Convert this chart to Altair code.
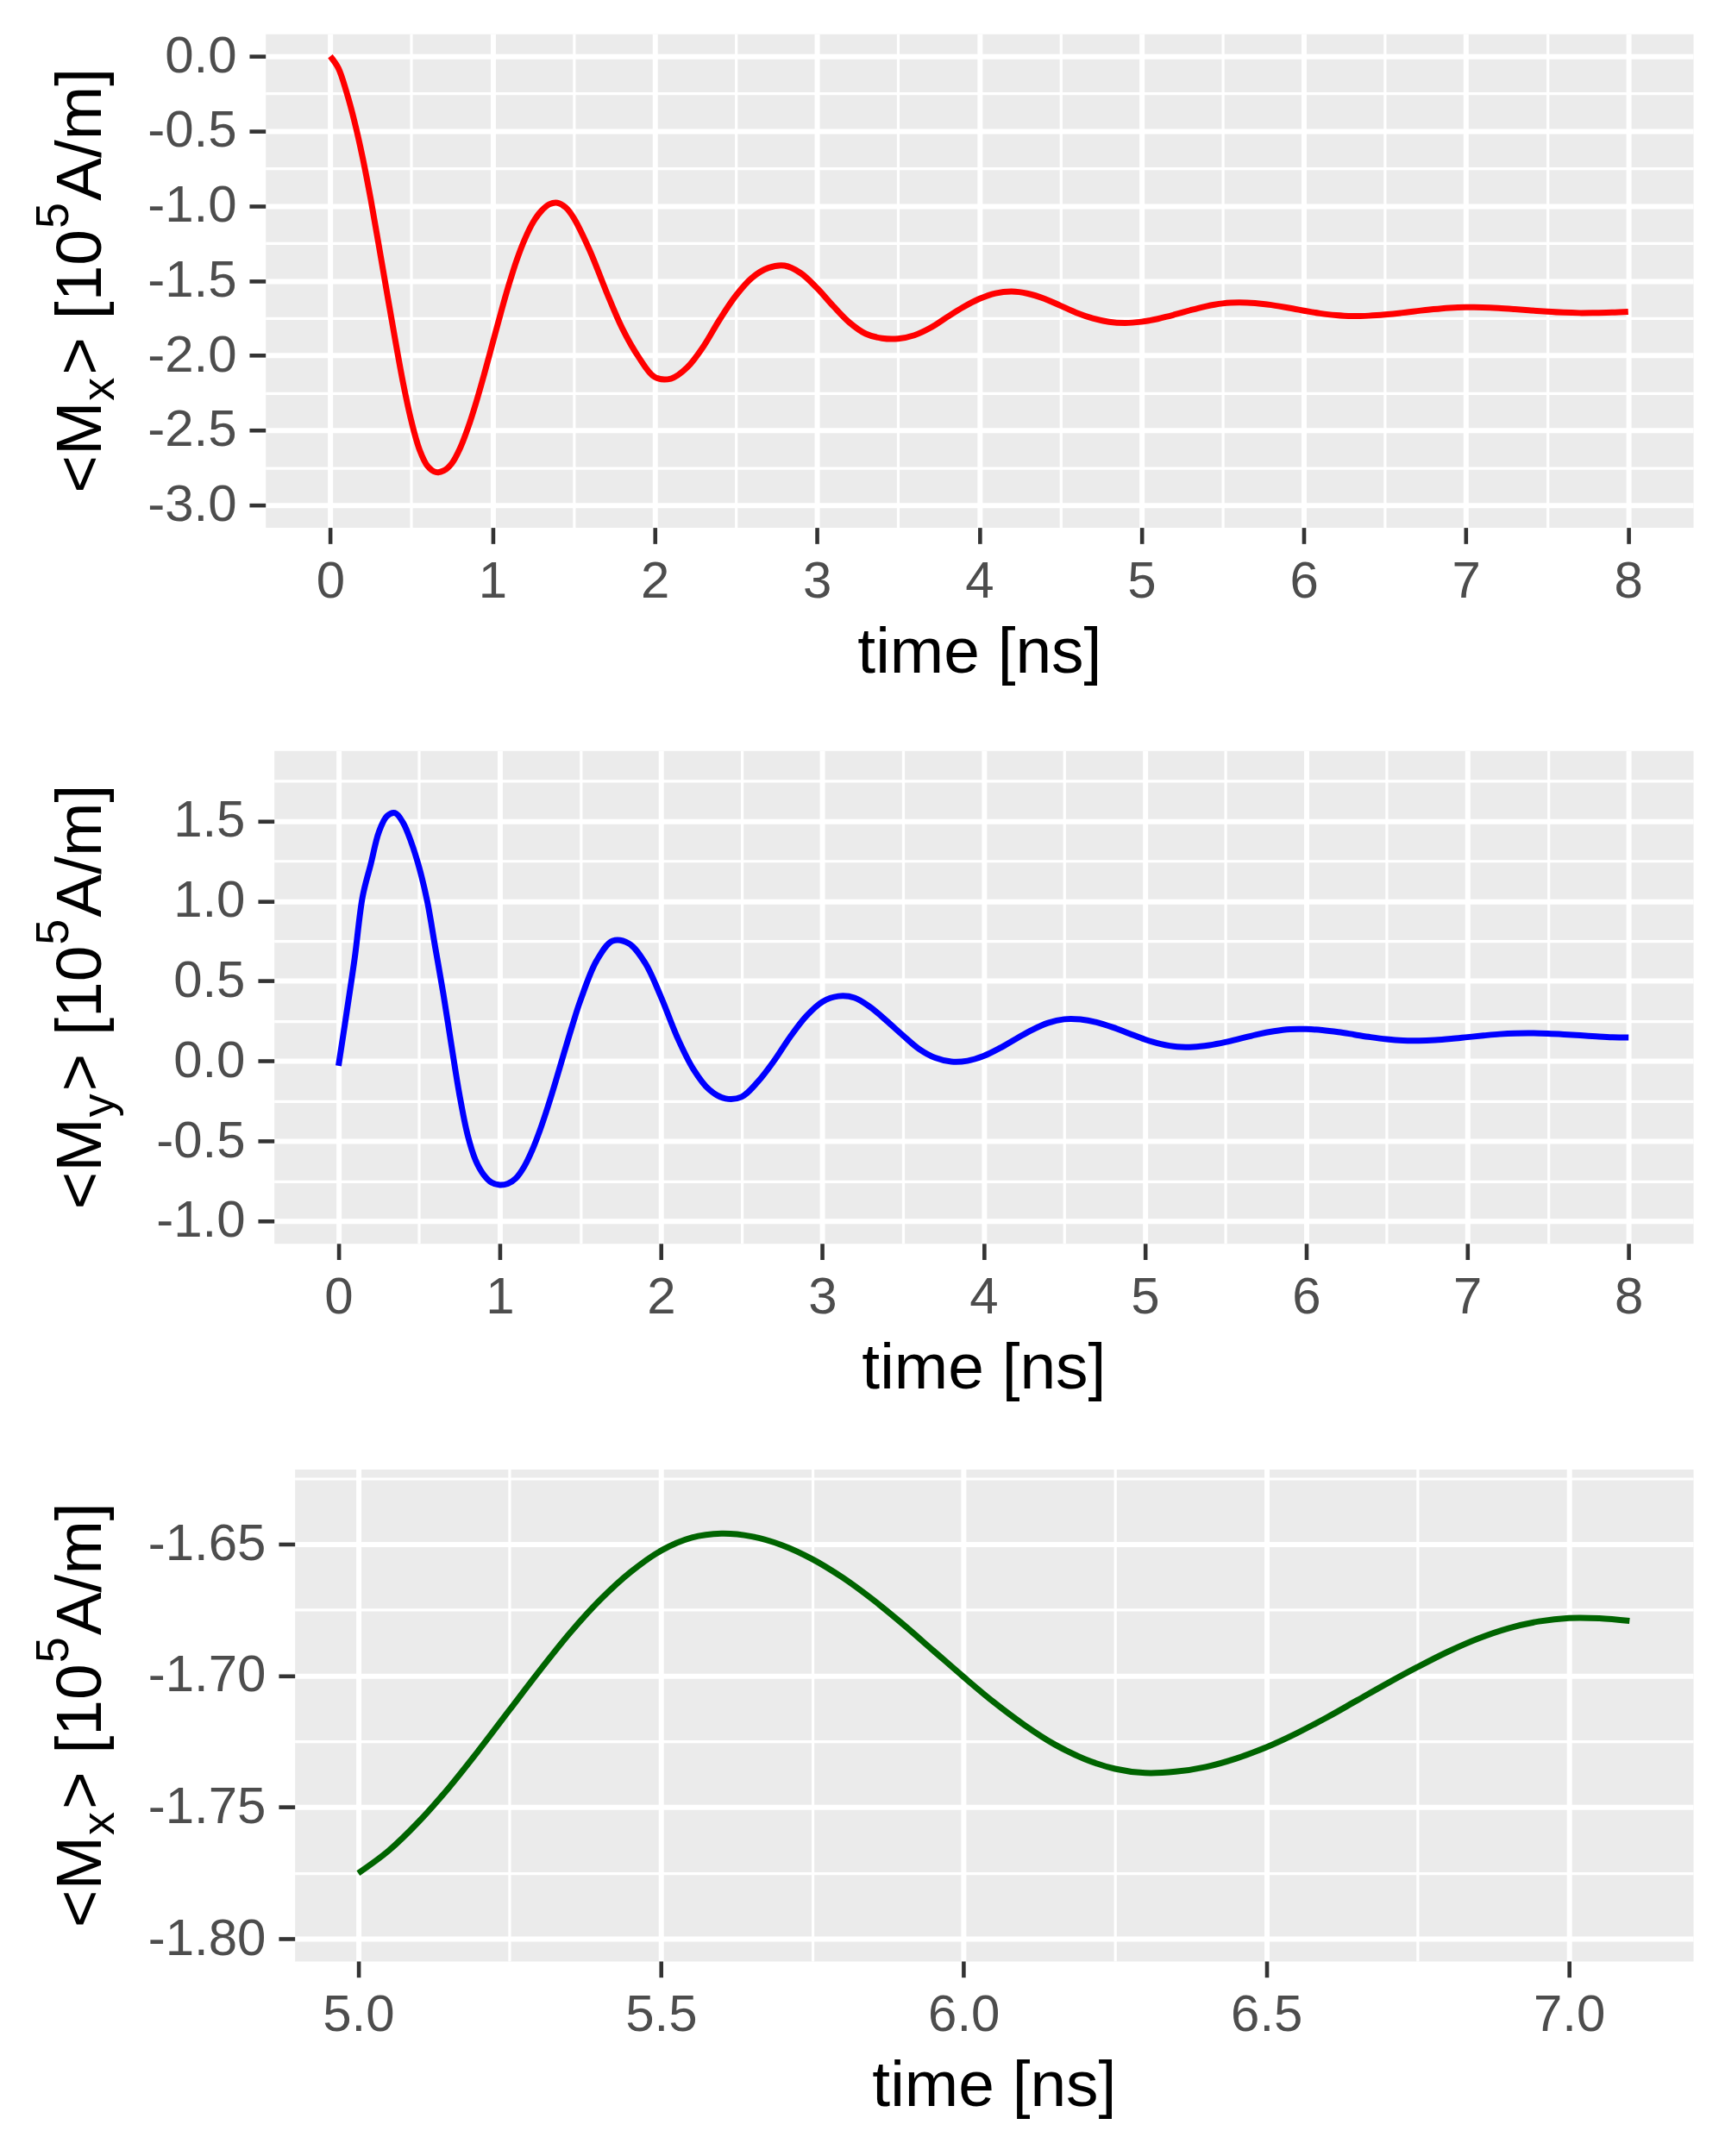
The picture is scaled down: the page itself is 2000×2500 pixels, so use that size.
import altair as alt
import pandas as pd

FONT = "Liberation Sans"

# <Mx> trace; denser sampling where it swings fast and over the 5.0-7.1 ns window
mx_time = [
    0.00, 0.05, 0.10, 0.15, 0.20, 0.25, 0.30, 0.35, 0.40, 0.45,
    0.50, 0.55, 0.60, 0.65, 0.70, 0.75, 0.80, 0.85, 0.90, 0.95,
    1.00, 1.05, 1.10, 1.15, 1.20, 1.25, 1.30, 1.35, 1.40, 1.45, 1.50,
    1.6, 1.7, 1.8, 1.9, 2.0, 2.1, 2.2, 2.3, 2.4, 2.5, 2.6, 2.7, 2.8, 2.9,
    3.0, 3.1, 3.2, 3.3, 3.4, 3.5, 3.6, 3.7, 3.8, 3.9,
    4.0, 4.1, 4.2, 4.3, 4.4, 4.5, 4.6, 4.7, 4.8, 4.9,
    5.00, 5.05, 5.10, 5.15, 5.20, 5.25, 5.30, 5.35, 5.40, 5.45,
    5.50, 5.55, 5.60, 5.65, 5.70, 5.75, 5.80, 5.85, 5.90, 5.95,
    6.00, 6.05, 6.10, 6.15, 6.20, 6.25, 6.30, 6.35, 6.40, 6.45,
    6.50, 6.55, 6.60, 6.65, 6.70, 6.75, 6.80, 6.85, 6.90, 6.95,
    7.00, 7.05, 7.10,
    7.2, 7.3, 7.4, 7.5, 7.6, 7.7, 7.8, 7.9, 8.0,
]
mx_value = [
    0.00, -0.08, -0.24, -0.44, -0.68, -0.96, -1.27, -1.585, -1.895, -2.19,
    -2.44, -2.63, -2.74, -2.78, -2.77, -2.72, -2.62, -2.48, -2.31, -2.12,
    -1.92, -1.72, -1.53, -1.36, -1.22, -1.11, -1.035, -0.99, -0.98, -1.01, -1.08,
    -1.30, -1.57, -1.82, -2.01, -2.145, -2.155, -2.08, -1.94, -1.76, -1.60, -1.48, -1.415, -1.40, -1.45,
    -1.55, -1.67, -1.78, -1.855, -1.885, -1.888, -1.865, -1.815, -1.745, -1.678,
    -1.622, -1.585, -1.573, -1.587, -1.620, -1.667, -1.715, -1.752, -1.776, -1.783,
    -1.7751, -1.7666, -1.7555, -1.7425, -1.7281, -1.7130, -1.6980, -1.6837, -1.6711, -1.6606,
    -1.6525, -1.6476, -1.6460, -1.6471, -1.6504, -1.6557, -1.6627, -1.6711, -1.6805, -1.6905,
    -1.7005, -1.7101, -1.7187, -1.7261, -1.7317, -1.7354, -1.7370, -1.7365, -1.7347, -1.7315,
    -1.7272, -1.7219, -1.7159, -1.7094, -1.7029, -1.6967, -1.6909, -1.6859, -1.6820, -1.6794,
    -1.6781, -1.6782, -1.6792,
    -1.684, -1.691, -1.699, -1.707, -1.713, -1.716, -1.715, -1.713, -1.708,
]

# <My> trace
my_time = [
    0.00, 0.05, 0.10, 0.15, 0.20, 0.25, 0.30, 0.35, 0.40, 0.45,
    0.50, 0.55, 0.60, 0.65, 0.70, 0.75, 0.80, 0.85, 0.90, 0.95,
    1.00, 1.05, 1.10, 1.15, 1.20, 1.25, 1.30, 1.35, 1.40, 1.45, 1.50,
    1.6, 1.7, 1.8, 1.9, 2.0, 2.1, 2.2, 2.3, 2.4, 2.5, 2.6, 2.7, 2.8, 2.9,
    3.0, 3.1, 3.2, 3.3, 3.4, 3.5, 3.6, 3.7, 3.8, 3.9,
    4.0, 4.1, 4.2, 4.3, 4.4, 4.5, 4.6, 4.7, 4.8, 4.9,
    5.0, 5.1, 5.2, 5.3, 5.4, 5.5, 5.6, 5.7, 5.8, 5.9,
    6.0, 6.1, 6.2, 6.3, 6.4, 6.5, 6.6, 6.7, 6.8, 6.9,
    7.0, 7.1, 7.2, 7.3, 7.4, 7.5, 7.6, 7.7, 7.8, 7.9, 8.0,
]
my_value = [
    -0.03, 0.30, 0.64, 1.03, 1.23, 1.43, 1.53, 1.55, 1.49, 1.37,
    1.21, 1.00, 0.71, 0.42, 0.10, -0.21, -0.46, -0.62, -0.71, -0.76,
    -0.775, -0.767, -0.733, -0.663, -0.560, -0.430, -0.280, -0.116, 0.055, 0.222, 0.378,
    0.626, 0.751, 0.735, 0.615, 0.400, 0.150, -0.050, -0.180, -0.235, -0.224, -0.130, 0.000, 0.150, 0.280,
    0.370, 0.405, 0.395, 0.335, 0.250, 0.160, 0.075, 0.020, -0.004, 0.001,
    0.031, 0.080, 0.138, 0.194, 0.238, 0.261, 0.260, 0.242, 0.211, 0.173,
    0.135, 0.106, 0.089, 0.088, 0.099, 0.118, 0.142, 0.167, 0.186, 0.198,
    0.199, 0.193, 0.181, 0.165, 0.149, 0.136, 0.128, 0.127, 0.131, 0.139,
    0.149, 0.159, 0.168, 0.173, 0.174, 0.171, 0.166, 0.160, 0.154, 0.149, 0.147,
]

# tick positions (majors carry labels, the rest are minor grid lines)
full_x_ticks = [0, 0.5, 1, 1.5, 2, 2.5, 3, 3.5, 4, 4.5, 5, 5.5, 6, 6.5, 7, 7.5, 8]
mx_y_ticks = [-3.0, -2.75, -2.5, -2.25, -2.0, -1.75, -1.5, -1.25, -1.0, -0.75, -0.5, -0.25, 0.0]
my_y_ticks = [-1.0, -0.75, -0.5, -0.25, 0.0, 0.25, 0.5, 0.75, 1.0, 1.25, 1.5, 1.75]
zoom_x_ticks = [5.0, 5.25, 5.5, 5.75, 6.0, 6.25, 6.5, 6.75, 7.0]
zoom_y_ticks = [-1.8, -1.775, -1.75, -1.725, -1.7, -1.675, -1.65, -1.625]

mx = pd.DataFrame({"t": mx_time, "v": mx_value})
my = pd.DataFrame({"t": my_time, "v": my_value})

MAJOR_W, MINOR_W = 6.0, 3.2
LINE_W = 7.0
MINUS = "\u2212"

# Arial / Liberation Sans advance widths (em) for the label glyphs
ADV = {"<": 0.584, "M": 0.833, "x": 0.5, "y": 0.5, ">": 0.584, " ": 0.278,
       "[": 0.278, "1": 0.556, "0": 0.556, "5": 0.556, "A": 0.667, "/": 0.278,
       "m": 0.833, "]": 0.278}


def major_test(step):
    return f"abs(datum.value / {step} - round(datum.value / {step})) < 1e-6"


def make_axis(values, step, fmt, title):
    test = major_test(step)
    extra = {"title": title} if title else {"title": None}
    return alt.Axis(
        values=values,
        labelExpr=f"{test} ? replace(format(datum.value, '{fmt}'), '{MINUS}', '-') : ''",
        gridWidth={"condition": {"test": test, "value": MAJOR_W}, "value": MINOR_W},
        tickOpacity={"condition": {"test": test, "value": 1}, "value": 0},
        **extra,
    )


def y_title(sub, off, h):
    # rotated "<M_sub> [10^5A/m]" built from pieces: text, size, baseline shift, gap after
    pieces = [("<M", 75, 0, 1), (sub, 54, 15, 3), ("> [10", 75, 0, 1),
              ("5", 54, -38, 2), ("A/m]", 75, 0, 0)]
    widths = [sum(ADV[c] for c in s) * size + gap for s, size, _, gap in pieces]
    total = sum(widths)
    y = h / 2 + total / 2
    layers = []
    for (s, size, shift, _), w in zip(pieces, widths):
        layers.append(
            alt.Chart(pd.DataFrame({"s": [s]}))
            .mark_text(angle=270, align="left", baseline="alphabetic",
                       font=FONT, fontSize=size, color="black")
            .encode(x=alt.value(-off + shift), y=alt.value(y), text="s:N")
        )
        y -= w
    return layers


def spacer():
    # invisible one-pixel cell that pins the left edge of every row
    return (
        alt.Chart(pd.DataFrame({"a": [0]}))
        .mark_rule(opacity=0)
        .encode(x=alt.value(0), y=alt.value(0), y2=alt.value(1))
        .properties(width=1, height=1,
                    view=alt.ViewBackground(fill="transparent", stroke="transparent"))
    )


def panel(data, color, x_dom, y_dom, x_ticks, x_step, x_fmt,
          y_ticks, y_step, y_fmt, sub, off, w, h):
    line = (
        alt.Chart(data)
        .mark_line(color=color, strokeWidth=LINE_W, interpolate="catmull-rom")
        .encode(
            x=alt.X("t:Q", scale=alt.Scale(domain=x_dom, nice=False, zero=False),
                    axis=make_axis(x_ticks, x_step, x_fmt, "time [ns]")),
            y=alt.Y("v:Q", scale=alt.Scale(domain=y_dom, nice=False, zero=False),
                    axis=make_axis(y_ticks, y_step, y_fmt, None)),
        )
    )
    body = alt.layer(line, *y_title(sub, off, h)).properties(width=w, height=h)
    return alt.hconcat(spacer(), body, spacing=0)


top = panel(mx, "#FF0000", [-0.4, 8.4], [-3.15, 0.15], full_x_ticks, 1, "d",
            mx_y_ticks, 0.5, ".1f", "x", 191, 1657, 573)
mid = panel(my, "#0000FF", [-0.4, 8.4], [-1.14, 1.94], full_x_ticks, 1, "d",
            my_y_ticks, 0.5, ".1f", "y", 201, 1647, 572)
zoom_data = mx[(mx["t"] >= 4.999) & (mx["t"] <= 7.101)]
bot = panel(zoom_data, "#006400", [4.895, 7.205], [-1.8085, -1.6215], zoom_x_ticks, 0.5, ".1f",
            zoom_y_ticks, 0.05, ".2f", "x", 225, 1623, 571)

upper = alt.vconcat(top, mid, spacing=74)
chart = (
    alt.vconcat(upper, bot, spacing=58)
    .properties(padding={"left": 32, "top": 33, "right": 36, "bottom": 8},
                background="white")
    .configure_view(fill="#EBEBEB", stroke="transparent")
    .configure_axis(
        domain=False,
        gridColor="white",
        labelFont=FONT, labelFontSize=60, labelColor="#4D4D4D",
        labelPadding=15, labelFlush=False, labelOverlap=False,
        tickColor="#333333", tickWidth=4.6, tickSize=18.75,
        titleFont=FONT, titleFontSize=75, titleColor="black",
        titleFontWeight="normal", titlePadding=16,
    )
)

chart.save("out.html", embed_options={"renderer": "svg", "actions": False})
